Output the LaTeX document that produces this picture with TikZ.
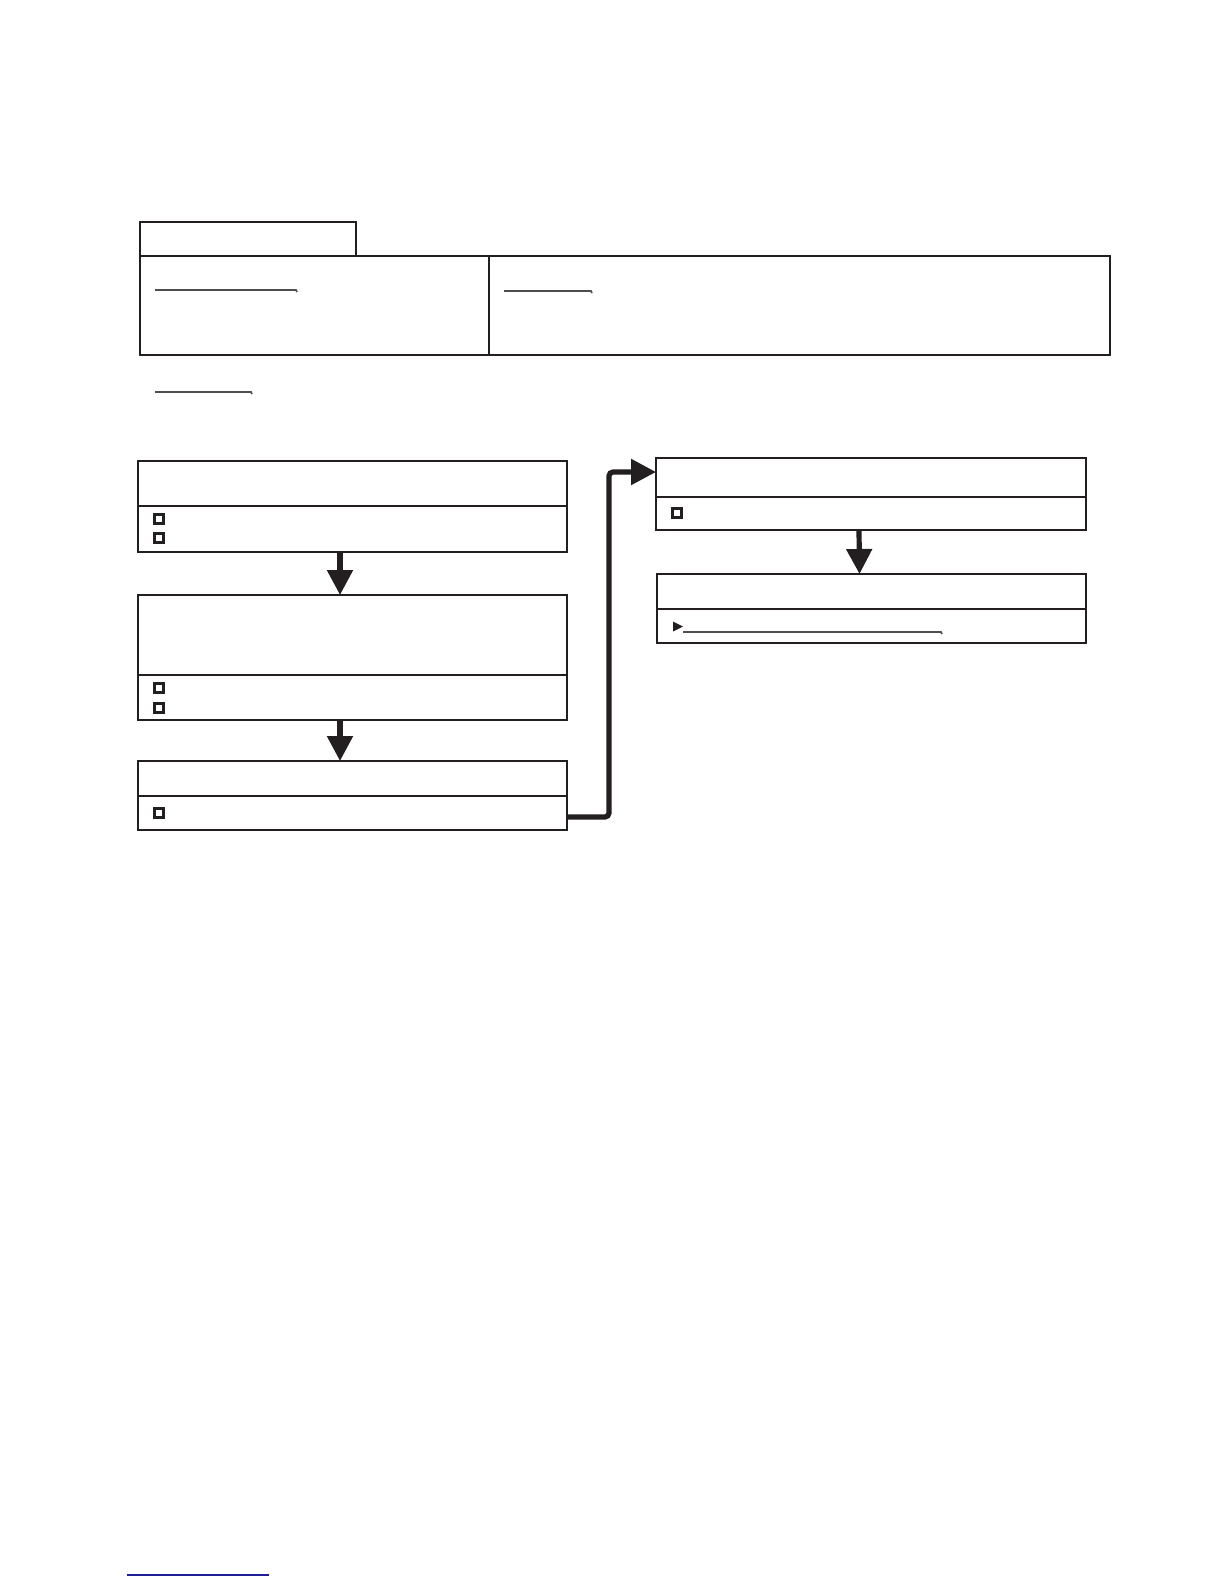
\documentclass[tikz,border=0pt]{standalone}
\usetikzlibrary{arrows.meta,calc}
\definecolor{ink}{RGB}{35,31,32}
\definecolor{linkblue}{RGB}{30,30,150}
\begin{document}
\begin{tikzpicture}[x=0.5pt,y=-0.5pt,
   panel/.style={draw=ink, line width=1pt, inner sep=0pt, outer sep=0pt, anchor=north west},
   divider/.style={draw=ink, line width=0.75pt},
   chk/.style={draw=ink, line width=1.2pt, inner sep=0pt, minimum size=4.5pt},
   linkline/.style={draw=ink!80, line width=0.8pt},
   flow/.style={draw=ink, line width=2.6pt, -{Triangle[width=12.5pt,length=12.5pt]}}]
   \useasboundingbox (0,0) rectangle (1224,1584);

   % header
   \node [panel, minimum width=108pt, minimum height=17pt] (tab) at (140,222) {};
   \node [panel, minimum width=485pt, minimum height=49.5pt] (head) at (140,256) {};
   \draw [divider] (489,256) -- (489,355);
   \draw [linkline] (155,290) -- (296,290) -- (297,292);
   \draw [linkline] (504,291) -- (591,291) -- (592,293);
   \draw [linkline] (155,392) -- (251,392) -- (252,394);

   % left column
   \node [panel, minimum width=214.5pt, minimum height=45.5pt] (b1) at (138,461) {};
   \draw [divider] (b1.west |- 0,506) -- (b1.east |- 0,506);
   \node [chk] (c11) at (159,519) {};
   \node [chk] (c12) at (159,538) {};

   \node [panel, minimum width=214.5pt, minimum height=62.5pt] (b2) at (138,595) {};
   \draw [divider] (b2.west |- 0,675) -- (b2.east |- 0,675);
   \node [chk] (c21) at (159,688) {};
   \node [chk] (c22) at (159,708) {};

   \node [panel, minimum width=214.5pt, minimum height=34.5pt] (b3) at (138,761) {};
   \draw [divider] (b3.west |- 0,796) -- (b3.east |- 0,796);
   \node [chk] (c31) at (159,813) {};

   % right column
   \node [panel, minimum width=215pt, minimum height=36pt] (b4) at (656,458) {};
   \draw [divider] (b4.west |- 0,497) -- (b4.east |- 0,497);
   \node [chk] (c41) at (677,513) {};

   \node [panel, minimum width=214.5pt, minimum height=34.5pt] (b5) at (657,574) {};
   \draw [divider] (b5.west |- 0,609) -- (b5.east |- 0,609);
   \fill [ink] (673,621.5) -- (683,626.5) -- (673,631.5) -- cycle;
   \draw [linkline] (683,632) -- (941,632) -- (942,634);

   % arrows
   \draw [flow] ([xshift=-6.25pt]b1.south) -- ([xshift=-6.25pt]b2.north);
   \draw [flow] ([xshift=-6.25pt]b2.south) -- ([xshift=-6.25pt]b3.north);
   \coordinate (bend) at (609,472);
   \draw [flow, rounded corners=2pt] (b3.east |- 0,817) -| (bend) -- (b4.west |- bend);
   \draw [flow] ([xshift=-6pt]b4.south) -- ([xshift=-6pt]b5.north);

   \draw [linkblue, line width=1pt] (127,1575) -- (269,1575);
\end{tikzpicture}
\end{document}
